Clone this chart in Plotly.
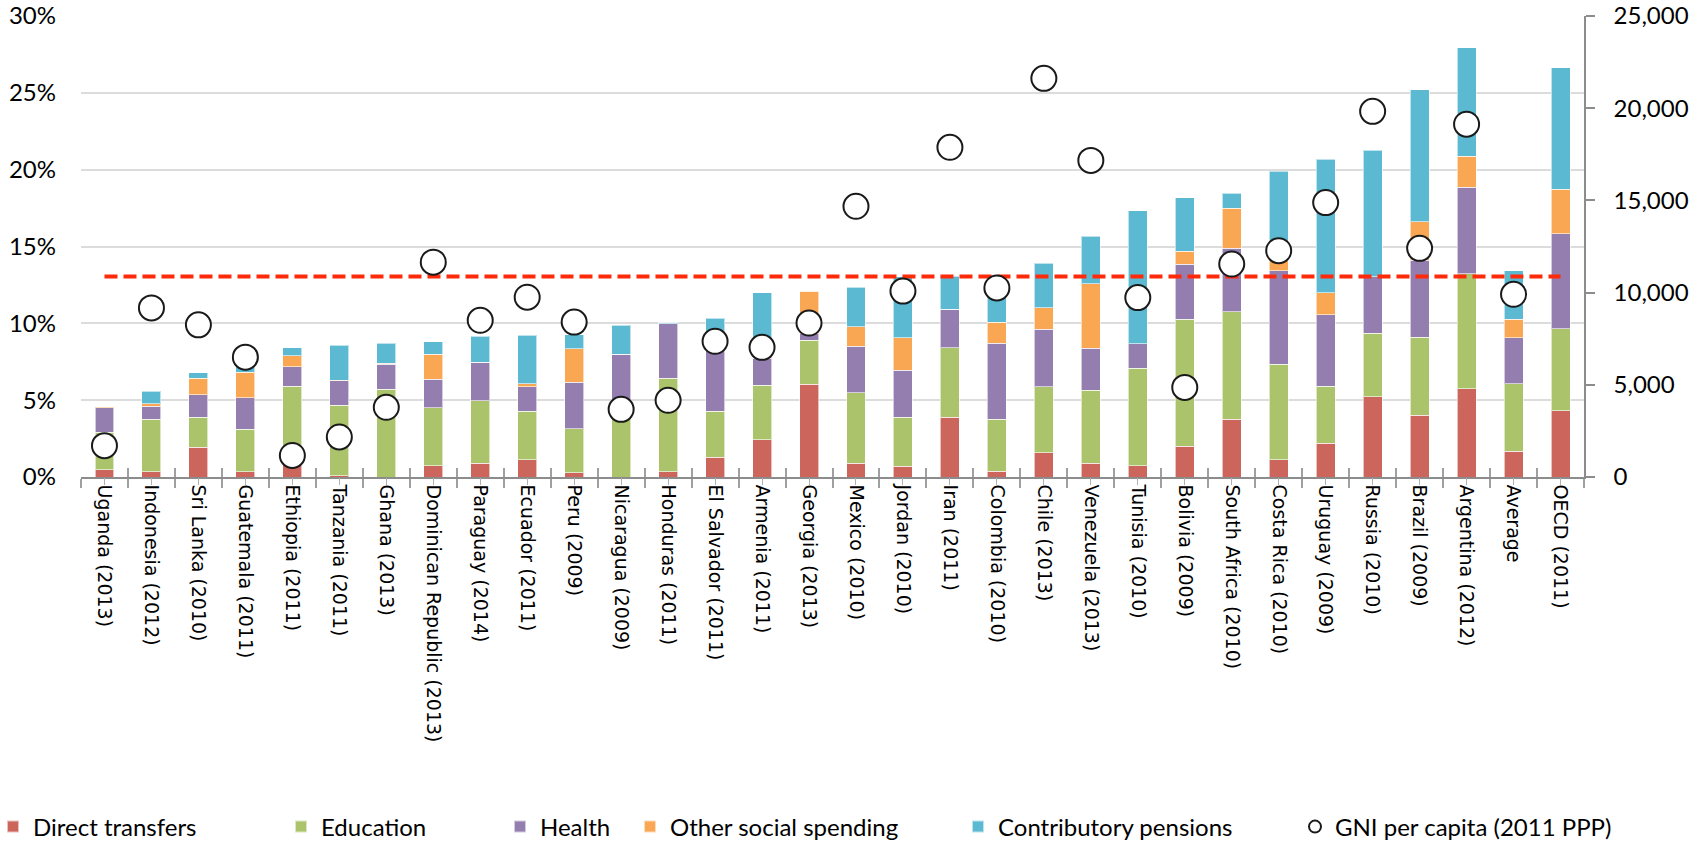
import plotly.graph_objects as go

countries = ["Uganda (2013)", "Indonesia (2012)", "Sri Lanka (2010)", "Guatemala (2011)",
             "Ethiopia (2011)", "Tanzania (2011)", "Ghana (2013)", "Dominican Republic (2013)",
             "Paraguay (2014)", "Ecuador (2011)", "Peru (2009)", "Nicaragua (2009)",
             "Honduras (2011)", "El Salvador (2011)", "Armenia (2011)", "Georgia (2013)",
             "Mexico (2010)", "Jordan (2010)", "Iran (2011)", "Colombia (2010)", "Chile (2013)",
             "Venezuela (2013)", "Tunisia (2010)", "Bolivia (2009)", "South Africa (2010)",
             "Costa Rica (2010)", "Uruguay (2009)", "Russia (2010)", "Brazil (2009)",
             "Argentina (2012)", "Average", "OECD (2011)"]

direct_transfers = [0.48, 0.33, 1.95, 0.33, 0.80, 0.09, 0.00, 0.72, 0.91, 1.13, 0.28, 0.00,
                    0.33, 1.30, 2.43, 6.03, 0.91, 0.69, 3.90, 0.39, 1.58, 0.91, 0.72, 2.00,
                    3.75, 1.13, 2.21, 5.21, 4.03, 5.73, 1.69, 4.30]
education = [2.42, 3.42, 1.93, 2.77, 5.12, 4.57, 5.70, 3.79, 4.04, 3.14, 2.87, 4.00,
             6.11, 2.97, 3.54, 2.86, 4.56, 3.19, 4.52, 3.36, 4.28, 4.73, 6.35, 8.28,
             7.01, 6.20, 3.71, 4.14, 5.06, 7.50, 4.38, 5.35]
health = [1.61, 0.87, 1.46, 2.06, 1.24, 1.61, 1.63, 1.85, 2.53, 1.59, 3.03, 4.00,
          3.54, 4.53, 1.75, 0.44, 3.05, 3.06, 2.49, 4.95, 3.77, 2.75, 1.59, 3.58,
          4.12, 6.08, 4.64, 3.67, 5.01, 5.62, 2.98, 6.19]
other_social = [0.07, 0.15, 1.10, 1.67, 0.74, 0.04, 0.07, 1.64, 0.00, 0.21, 2.17, 0.00,
                0.00, 0.00, 0.09, 2.77, 1.26, 2.12, 0.00, 1.38, 1.39, 4.19, 0.00, 0.83,
                2.62, 0.69, 1.44, 0.00, 2.52, 2.02, 1.23, 2.90]
contributory_pensions = [0.00, 0.80, 0.33, 0.42, 0.52, 2.26, 1.30, 0.81, 1.67, 3.15, 0.91, 1.87,
                         0.05, 1.53, 4.19, 0.00, 2.56, 3.98, 2.14, 2.97, 2.88, 3.10, 8.67, 3.49,
                         0.98, 5.79, 8.67, 8.24, 8.58, 7.07, 3.13, 7.90]
gni_per_capita = [1700, 9170, 8250, 6500, 1170, 2170, 3780, 11650, 8500, 9750, 8400, 3670,
                  4160, 7360, 7030, 8350, 14680, 10080, 17880, 10250, 21620, 17170, 9730, 4860,
                  11550, 12270, 14880, 19830, 12400, 19130, 9910, None]
reference_level = 13.05  # dashed reference line, % of GDP

series = [
    ("Direct transfers", direct_transfers, "#CC655C"),
    ("Education", education, "#ABC46B"),
    ("Health", health, "#947DAF"),
    ("Other social spending", other_social, "#F9A753"),
    ("Contributory pensions", contributory_pensions, "#5CB9D2"),
]
legend_ids = ["legend", "legend2", "legend3", "legend4", "legend5", "legend6"]

fig = go.Figure()
for i, (name, vals, col) in enumerate(series):
    fig.add_trace(go.Bar(
        x=countries, y=vals, name=name, legend=legend_ids[i],
        marker=dict(color=col, line=dict(color="rgba(255,255,255,0.6)", width=1)),
    ))

fig.add_trace(go.Scatter(
    x=[countries[0], countries[-1]], y=[reference_level, reference_level],
    mode="lines", line=dict(color="#FF2A0A", width=4, dash="13px,6px"),
    showlegend=False, hoverinfo="skip",
))

fig.add_trace(go.Scatter(
    x=countries, y=gni_per_capita, yaxis="y2", mode="markers",
    name="GNI per capita (2011 PPP)", legend="legend6",
    marker=dict(symbol="circle", size=25, color="white",
                line=dict(color="#1a1a1a", width=2)),
))

# helper invisible traces for extra tick axes
fig.add_trace(go.Scatter(x=countries, y=[0] * len(countries), xaxis="x3", mode="markers",
                         marker=dict(opacity=0), showlegend=False, hoverinfo="skip"))
fig.add_trace(go.Scatter(x=countries, y=[0] * len(countries), xaxis="x4", mode="markers",
                         marker=dict(opacity=0), showlegend=False, hoverinfo="skip"))

W, H = 1700, 844
L, R, T, B = 81, 116, 16, 367
plot_h = H - T - B
plot_w = W - L - R

def px_x(p):
    return (p - L) / plot_w

def px_y(p):
    return (H - B - p) / plot_h

legend_font = dict(family="Lato", size=24, color="black")
legend_lefts = [-7, 281, 500, 630, 958, 1295]
for lid, lx in zip(legend_ids, legend_lefts):
    fig.layout[lid] = dict(
        x=px_x(lx), xanchor="left", y=px_y(827), yanchor="middle",
        orientation="h", font=legend_font, bgcolor="rgba(0,0,0,0)",
        itemsizing="constant", borderwidth=0,
    )

cat_range = [-0.5, len(countries) - 0.5]
fig.update_layout(
    width=W, height=H,
    margin=dict(l=L, r=R, t=T, b=B, autoexpand=False),
    plot_bgcolor="white", paper_bgcolor="white",
    barmode="stack", bargap=0.596,
    xaxis=dict(type="category", range=cat_range, tickangle=90,
               tickfont=dict(family="DejaVu Sans", size=19, color="black"),
               showline=True, linecolor="#8c8c8c", linewidth=1.5,
               ticks="outside", tickson="boundaries", ticklen=9, tickcolor="#a0a0a0",
               tickwidth=1.5, showgrid=False, ticklabelstandoff=2),
    xaxis3=dict(type="category", range=cat_range, overlaying="x", anchor="y",
                showticklabels=False, ticks="inside", tickson="boundaries", ticklen=9,
                tickcolor="#a0a0a0", tickwidth=1.5, showgrid=False, showline=False),
    xaxis4=dict(type="category", range=cat_range, overlaying="x", anchor="y",
                showticklabels=False, ticks="outside", ticklen=7,
                tickcolor="#b0b0b0", tickwidth=1.2, showgrid=False, showline=False),
    yaxis=dict(range=[0, 30], dtick=5, ticksuffix="%", showgrid=True,
               gridcolor="#DCDCDC", gridwidth=1.5, zeroline=False, showline=False,
               tickfont=dict(family="Lato", size=24, color="black"),
               ticklabelstandoff=24),
    yaxis2=dict(range=[0, 25000], dtick=5000, tickformat=",", overlaying="y",
                side="right", showgrid=False, zeroline=False, showline=True,
                linecolor="#8c8c8c", linewidth=1.5, ticks="outside", ticklen=9,
                tickcolor="#8c8c8c", tickwidth=1.5,
                tickfont=dict(family="Lato", size=24, color="black"),
                ticklabelstandoff=14),
    showlegend=True,
)

fig.write_html("out.html", config={"displayModeBar": False},
               post_script="document.body.style.margin='0';")
